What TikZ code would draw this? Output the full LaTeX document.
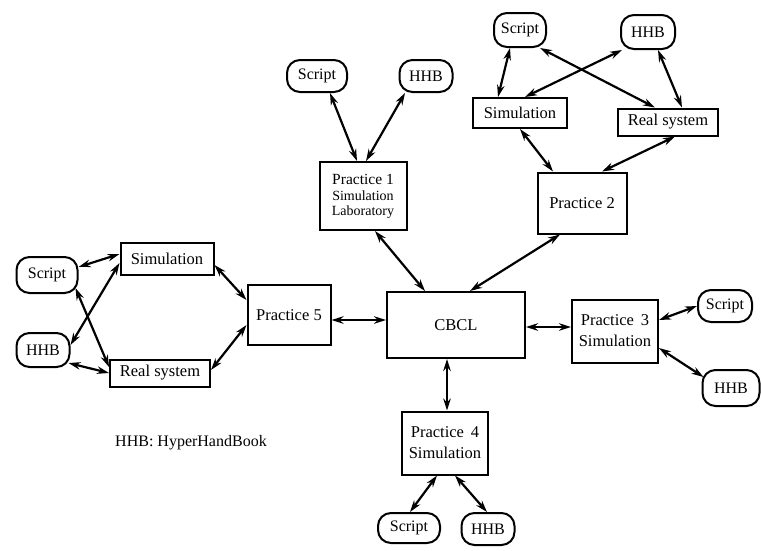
\documentclass[tikz,border=0pt]{standalone}
\usepackage{fontspec}
\setmainfont{Liberation Serif}
\usetikzlibrary{arrows.meta,calc}
\begin{document}
\begin{tikzpicture}[x=1pt,y=-1pt,
  box/.style={draw,line width=2pt,align=center,inner sep=1pt,font=\fontsize{16.5}{21}\selectfont},
  pill/.style={draw,line width=2pt,rounded corners=13pt,inner sep=1pt,font=\fontsize{16}{18}\selectfont},
  link/.style={line width=2.2pt,{Stealth[length=12pt,width=7.5pt]}-{Stealth[length=12pt,width=7.5pt]}}]
\useasboundingbox (0,0) rectangle (761,550);
% Practice 1 group
\node[pill,minimum width=60pt,minimum height=32pt] (s1) at (317,76) {Script};
\node[pill,minimum width=53pt,minimum height=32pt] (h1) at (426,76) {HHB};
\node[box,minimum width=87pt,minimum height=68pt,font=\fontsize{15.5}{17}\selectfont] (p1) at (363,196) {Practice 1\\[-1pt]{\fontsize{14}{14}\selectfont Simulation}\\[-2pt]{\fontsize{14}{14}\selectfont Laboratory}};
% Practice 2 group
\node[pill,minimum width=52pt,minimum height=34pt] (s2) at (520,30) {Script};
\node[pill,minimum width=54pt,minimum height=34pt] (h2) at (648,32) {HHB};
\node[box,minimum width=94pt,minimum height=30pt] (sim2) at (520,113) {Simulation};
\node[box,minimum width=100pt,minimum height=27pt] (rs2) at (668,122) {Real system};
\node[box,minimum width=89pt,minimum height=61pt] (p2) at (582,203) {Practice 2};
% Practice 5 group
\node[pill,minimum width=61pt,minimum height=36pt] (s5) at (47,275) {Script};
\node[pill,minimum width=53pt,minimum height=34pt] (h5) at (43,350) {HHB};
\node[box,minimum width=93pt,minimum height=32pt] (sim5) at (167,259) {Simulation};
\node[box,minimum width=100pt,minimum height=27pt] (rs5) at (160,373) {Real system};
\node[box,minimum width=83pt,minimum height=60pt] (p5) at (289,315) {Practice 5};
% CBCL
\node[box,minimum width=138pt,minimum height=66pt] (c) at (456,325) {CBCL};
% Practice 3 group
\node[box,minimum width=86pt,minimum height=63pt] (p3) at (615,331) {Practice \,3\\Simulation};
\node[pill,minimum width=54pt,minimum height=32pt] (s3) at (725,306) {Script};
\node[pill,minimum width=57pt,minimum height=36pt] (h3) at (731,388) {HHB};
% Practice 4 group
\node[box,minimum width=86pt,minimum height=63pt] (p4) at (445,443) {Practice \,4\\Simulation};
\node[pill,minimum width=62pt,minimum height=30pt] (s4) at (409,528) {Script};
\node[pill,minimum width=53pt,minimum height=32pt] (h4) at (488,529) {HHB};
% legend
\node[font=\fontsize{16}{18}\selectfont] (leg) at (191,443) {HHB: HyperHandBook};
% connectors P1
\draw[link] ($(s1.south)+(13,0)$) -- ($(p1.north)+(-6,0)$);
\draw[link] ($(h1.south)+(-21,0)$) -- ($(p1.north)+(3,0)$);
\draw[link] ($(p1.south)+(12,0)$) -- ($(c.north)+(-31,0)$);
% connectors P2
\draw[link] ($(s2.south)+(-10,0)$) -- ($(sim2.north)+(-22,0)$);
\draw[link] ($(s2.south)+(20,0)$) -- ($(rs2.north)+(-13,0)$);
\draw[link] ($(h2.south)+(-26,0)$) -- ($(sim2.north)+(5,0)$);
\draw[link] ($(h2.south)+(10,0)$) -- ($(rs2.north)+(14,0)$);
\draw[link] (sim2.south) -- ($(p2.north)+(-29,0)$);
\draw[link] ($(rs2.south)+(7,0)$) -- ($(p2.north)+(20,0)$);
\draw[link] ($(p2.south)+(-22,0)$) -- ($(c.north)+(14,0)$);
% connectors P5
\draw[link] ($(s5.east)+(0,-8)$) -- ($(sim5.west)+(0,-5)$);
\draw[link] ($(s5.east)+(-3,13)$) -- ($(rs5.west)+(0,-6)$);
\draw[link] ($(h5.east)+(0,-5)$) -- ($(sim5.west)+(0,4)$);
\draw[link] ($(h5.east)+(-2,13)$) -- (rs5.west);
\draw[link] ($(sim5.east)+(0,6)$) -- ($(p5.west)+(0,-15)$);
\draw[link] ($(rs5.east)+(0,-3)$) -- ($(p5.west)+(0,10)$);
\draw[link] ($(p5.east)+(0,5)$) -- ($(c.west)+(0,-5)$);
% connectors P3
\draw[link] ($(c.east)+(0,2)$) -- ($(p3.west)+(0,-4)$);
\draw[link] ($(p3.east)+(0,-11)$) -- (s3.west);
\draw[link] ($(p3.east)+(0,17)$) -- ($(h3.west)+(2,-11)$);
% connectors P4
\draw[link] ($(c.south)+(-9,0)$) -- ($(p4.north)+(2,0)$);
\draw[link] ($(p4.south)+(-8,0)$) -- ($(s4.north)+(1,0)$);
\draw[link] ($(p4.south)+(10,0)$) -- ($(h4.north)+(-1,0)$);
\end{tikzpicture}
\end{document}
